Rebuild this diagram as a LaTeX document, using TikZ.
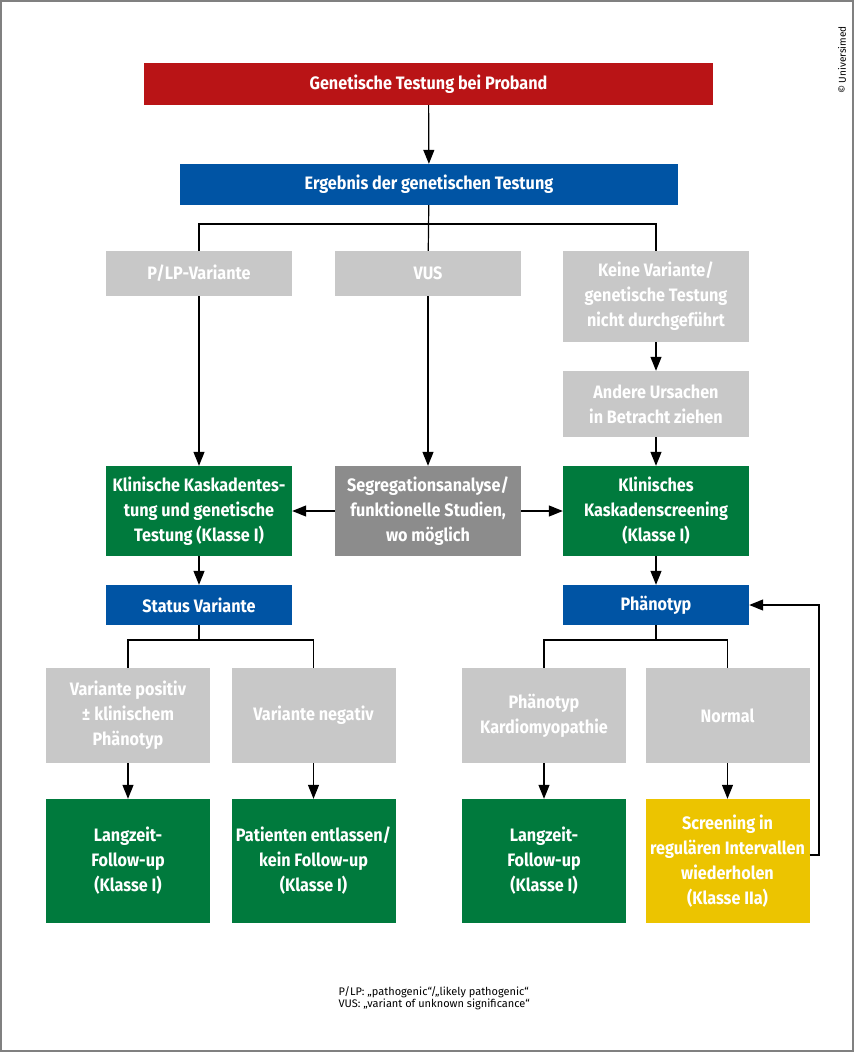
\documentclass[tikz,border=0pt]{standalone}
\usepackage{fontspec}
\setmainfont{Fira Sans}[FakeStretch=0.9]
\newfontfamily\notefont{Fira Sans}
\usetikzlibrary{arrows.meta}
\definecolor{uniRed}{RGB}{185,20,22}
\definecolor{uniBlue}{RGB}{0,84,164}
\definecolor{uniGreen}{RGB}{0,122,61}
\definecolor{uniGray}{RGB}{200,200,200}
\definecolor{uniDark}{RGB}{140,140,140}
\definecolor{uniYellow}{RGB}{236,196,0}
\begin{document}
\begin{tikzpicture}[x=1pt,y=-1pt,
  box/.style={text=white,inner sep=0pt,align=center,
    font=\bfseries\fontsize{18}{25}\selectfont,minimum width=186pt},
  redbox/.style={box,fill=uniRed},
  bluebox/.style={box,fill=uniBlue},
  graybox/.style={box,fill=uniGray},
  darkbox/.style={box,fill=uniDark},
  greenbox/.style={box,fill=uniGreen},
  yellowbox/.style={box,fill=uniYellow},
  small/.style={minimum width=164pt},
  line/.style={draw=black,line width=1.2pt},
  pfeil/.style={line,-{Triangle[length=14pt,width=11pt]}}]
\useasboundingbox (0,0) rectangle (854,1052);
\draw[gray,line width=1.5pt] (1,1) rectangle (853,1051);
% top
\node[redbox,minimum width=569pt,minimum height=42pt] (proband) at (428.5,84)
  {Genetische Testung bei Proband};
\node[bluebox,minimum width=498pt,minimum height=41pt] (ergebnis) at (429,184.5)
  {Ergebnis der genetischen Testung};
% results
\node[graybox,minimum height=45pt] (plp) at (199,273.5) {P/LP-Variante};
\node[graybox,minimum height=45pt] (vus) at (428,273.5) {VUS};
\node[graybox,minimum height=91pt] (keine) at (656,296.5)
  {Keine Variante/\\genetische Testung\\nicht durchgeführt};
\node[graybox,minimum height=66pt] (andere) at (656,404)
  {Andere Ursachen\\in Betracht ziehen};
% cascade
\node[greenbox,minimum height=90pt] (kaskade) at (199,511)
  {Klinische Kaskadentes-\\tung und genetische\\Testung (Klasse I)};
\node[darkbox,minimum height=90pt] (segreg) at (428,511)
  {Segregationsanalyse/\\funktionelle Studien,\\wo möglich};
\node[greenbox,minimum height=90pt] (screen) at (656,511)
  {Klinisches\\Kaskadenscreening\\(Klasse I)};
\node[bluebox,minimum height=40pt] (status) at (199,605) {Status Variante};
\node[bluebox,minimum height=40pt] (phaeno) at (656,605) {Phänotyp};
% lower rows
\node[graybox,small,minimum height=95pt] (vpos) at (128,715.5)
  {Variante positiv\\± klinischem\\Phänotyp};
\node[graybox,small,minimum height=95pt] (vneg) at (313.5,715.5) {Variante negativ};
\node[graybox,small,minimum height=95pt] (kardio) at (544,715.5)
  {Phänotyp\\Kardiomyopathie};
\node[graybox,small,minimum height=95pt] (normal) at (727.5,715.5) {Normal};
\node[greenbox,small,minimum height=124pt] (lang1) at (128,861)
  {Langzeit-\\Follow-up\\(Klasse I)};
\node[greenbox,small,minimum height=124pt] (entl) at (313.5,861)
  {Patienten entlassen/\\kein Follow-up\\(Klasse I)};
\node[greenbox,small,minimum height=124pt] (lang2) at (544,861)
  {Langzeit-\\Follow-up\\(Klasse I)};
\node[yellowbox,small,minimum height=124pt] (wiederh) at (727.5,861)
  {Screening in\\regulären Intervallen\\wiederholen\\(Klasse IIa)};
% connectors
\coordinate (split1) at (428,224);
\coordinate (split2) at (199,640);
\coordinate (split3) at (656,640);
\coordinate (back) at (819,855);
\draw[pfeil] (proband) -- (ergebnis);
\draw[line] (ergebnis) -- (vus);
\draw[line] (plp.north) |- (split1) -| (keine.north);
\draw[pfeil] (plp) -- (kaskade);
\draw[pfeil] (vus) -- (segreg);
\draw[pfeil] (keine) -- (andere);
\draw[pfeil] (andere) -- (screen);
\draw[pfeil] (segreg) -- (kaskade);
\draw[pfeil] (segreg) -- (screen);
\draw[pfeil] (kaskade) -- (status);
\draw[pfeil] (screen) -- (phaeno);
\draw[line] (status) -- (split2);
\draw[line] (vpos.north) |- (split2) -| (vneg.north);
\draw[line] (phaeno) -- (split3);
\draw[line] (kardio.north) |- (split3) -| (normal.north);
\draw[pfeil] (vpos) -- (lang1);
\draw[pfeil] (vneg) -- (entl);
\draw[pfeil] (kardio) -- (lang2);
\draw[pfeil] (normal) -- (wiederh);
\draw[pfeil] (wiederh.east |- back) -- (back) |- (phaeno.east);
% notes
\node[anchor=west,align=left,font=\notefont\fontsize{11}{12}\selectfont] (note) at (335,998)
  {P/LP: „pathogenic“/„likely pathogenic“\\VUS: „variant of unknown significance“};
\node[rotate=90,font=\notefont\fontsize{10}{11}\selectfont] (copy) at (842,60) {© Universimed};
\end{tikzpicture}
\end{document}
